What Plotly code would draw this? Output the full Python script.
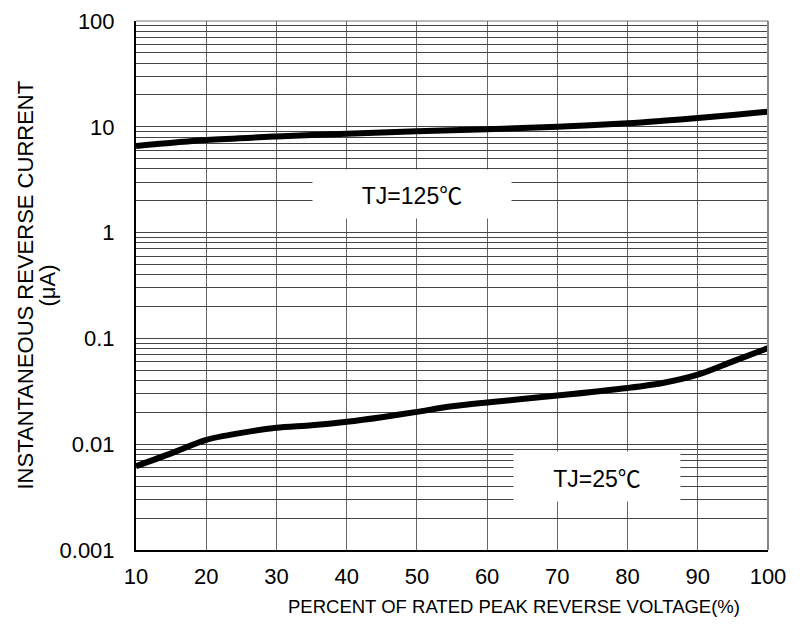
import plotly.graph_objects as go

# ---- data ----
voltage_125 = [10, 20, 30, 40, 50, 60, 70, 80, 85, 90, 95, 100]
current_125 = [6.6, 7.5, 8.1, 8.6, 9.1, 9.5, 10.0, 10.8, 11.4, 12.1, 12.9, 13.9]

voltage_25 = [10, 15, 20, 25, 30, 35, 40, 45, 50, 55, 60, 70, 80, 85, 90, 95, 100]
current_25 = [0.0062, 0.0082, 0.0110, 0.0128, 0.0143, 0.0151, 0.0163, 0.0180,
              0.0202, 0.0228, 0.0248, 0.0288, 0.0340, 0.0379, 0.0454, 0.0607, 0.081]

x_ticks = [10, 20, 30, 40, 50, 60, 70, 80, 90, 100]
y_major = [0.001, 0.01, 0.1, 1, 10, 100]
y_major_labels = ["0.001", "0.01", "0.1", "1", "10", "100"]

DEG = "<span style='font-family:\"Noto Sans CJK SC\"'>℃</span>"
label_125 = "TJ=125" + DEG
label_25 = "TJ=25" + DEG

# grid values (1..9 per decade)
y_grid = []
y_grid_text = []
for d in [0.001, 0.01, 0.1, 1, 10]:
    for m in range(1, 10):
        v = round(d * m, 6)
        y_grid.append(v)
        y_grid_text.append(y_major_labels[y_major.index(d)] if m == 1 else "")
y_grid.append(100)
y_grid_text.append("100")

FONT = "Arial, 'Liberation Sans', 'Noto Sans CJK SC', sans-serif"

# page body has an 8px margin: plot area target is x 136-768, y 21-550 in the window
W, H = 788, 615
L, R, T, B = 128, 28, 13, 73
PW, PH = W - L - R, H - T - B

fig = go.Figure()
fig.add_trace(go.Scatter(x=voltage_125, y=current_125, mode="lines",
                         line=dict(color="black", width=6, shape="spline", smoothing=0.8),
                         showlegend=False, hoverinfo="skip"))
fig.add_trace(go.Scatter(x=voltage_25, y=current_25, mode="lines",
                         line=dict(color="black", width=6, shape="spline", smoothing=0.8),
                         showlegend=False, hoverinfo="skip"))

fig.update_layout(
    width=W, height=H,
    margin=dict(l=L, r=R, t=T, b=B, autoexpand=False),
    paper_bgcolor="white", plot_bgcolor="white",
    font=dict(family=FONT, size=22, color="black"),
    xaxis=dict(range=[10, 100], tickvals=x_ticks, ticktext=[str(v) for v in x_ticks],
               showgrid=True, gridcolor="#666", gridwidth=1, automargin=False,
               showline=True, linecolor="black", linewidth=2,
               ticks="", ticklabelstandoff=6, zeroline=False,
               tickfont=dict(size=22)),
    yaxis=dict(type="log", range=[-3, 2], tickvals=y_grid, ticktext=y_grid_text,
               showgrid=True, gridcolor="#444", gridwidth=1, automargin=False,
               showline=True, linecolor="black", linewidth=2,
               ticks="", ticklabelstandoff=15, zeroline=False,
               tickfont=dict(size=22)),
)

# right & top borders (gray)
fig.add_shape(type="line", xref="paper", yref="paper", x0=1, x1=1, y0=0, y1=1,
              line=dict(color="#888", width=2))
fig.add_shape(type="line", xref="paper", yref="paper", x0=0, x1=1, y0=1, y1=1,
              line=dict(color="#777", width=1))

# temperature labels with white boxes masking the grid
fig.add_annotation(x=49.3, y=0.365, xref="x", yref="y", text=label_125,
                   showarrow=False, bgcolor="white", width=198, height=48,
                   borderpad=0, font=dict(size=23, family=FONT))
fig.add_annotation(x=75.6, y=-2.309, xref="x", yref="y", text=label_25,
                   showarrow=False, bgcolor="white", width=166, height=49,
                   borderpad=0, font=dict(size=23, family=FONT))

# axis titles (positions in window pixels converted to paper coords)
def px(xw):
    return (xw - 8 - L) / PW

def py(yw):
    return 1 - (yw - 8 - T) / PH

fig.add_annotation(x=px(514), y=py(606), xref="paper", yref="paper",
                   text="PERCENT OF RATED PEAK REVERSE VOLTAGE(%)", showarrow=False,
                   font=dict(size=18.5, family=FONT),
                   xanchor="center", yanchor="middle")
fig.add_annotation(x=px(25), y=0.5, xref="paper", yref="paper",
                   text="INSTANTANEOUS REVERSE CURRENT", showarrow=False, textangle=-90,
                   font=dict(size=22, family=FONT), xanchor="center", yanchor="middle")
fig.add_annotation(x=px(47), y=0.5, xref="paper", yref="paper",
                   text="(μA)", showarrow=False, textangle=-90,
                   font=dict(size=22, family=FONT), xanchor="center", yanchor="middle")

fig.write_html("out.html")
